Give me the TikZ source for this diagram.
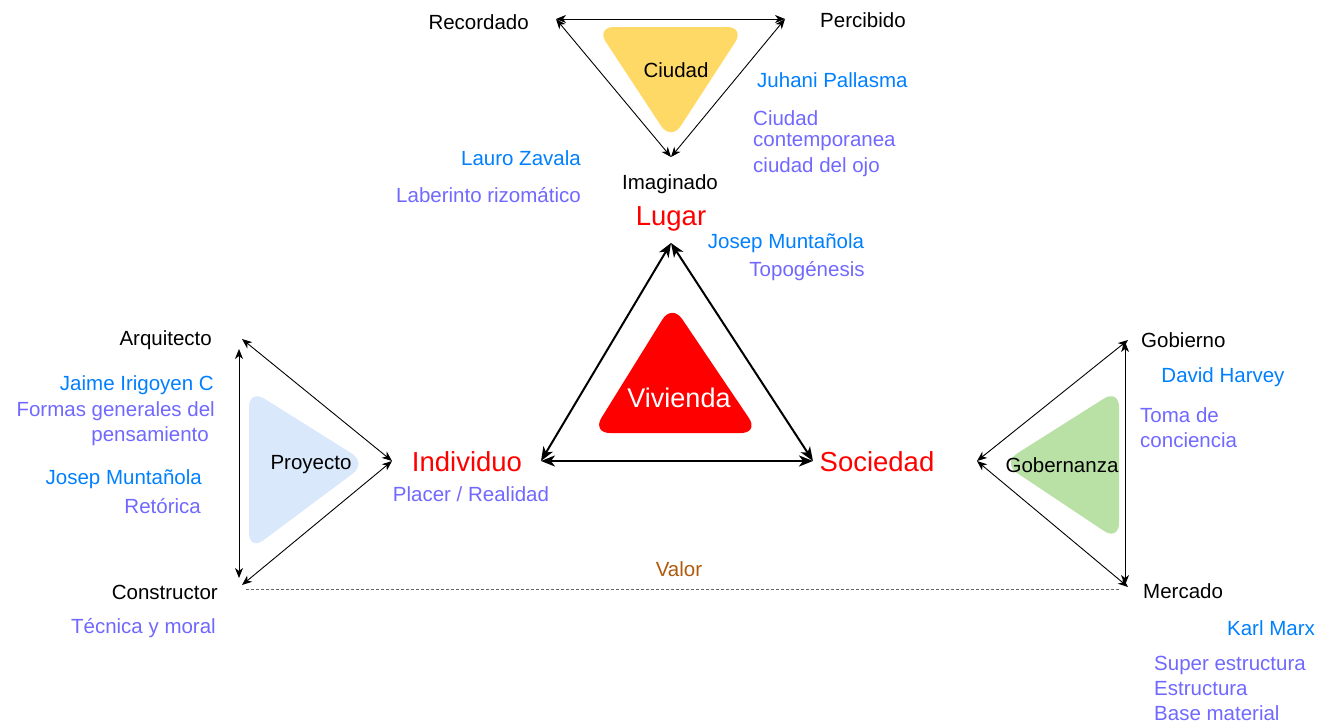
\documentclass[tikz,border=0pt]{standalone}
\usepackage{fontspec}
\setmainfont{Liberation Sans}
\usetikzlibrary{arrows.meta,calc}
\definecolor{authblue}{RGB}{0,127,255}
\definecolor{notepurple}{RGB}{112,104,255}
\definecolor{valorbrown}{RGB}{175,90,12}
\definecolor{ciudadyellow}{RGB}{255,217,102}
\definecolor{proyblue}{RGB}{218,232,252}
\definecolor{gobgreen}{RGB}{185,224,165}
\definecolor{vivred}{RGB}{255,0,0}
\tikzset{
  lbl/.style={font=\fontsize{20.5}{24}\selectfont, inner sep=0pt, yshift=-2pt},
  big/.style={font=\fontsize{27.5}{32}\selectfont, inner sep=0pt, text=vivred, yshift=-2.5pt},
  auth/.style={lbl, text=authblue},
  note/.style={lbl, text=notepurple},
  thinarr/.style={line width=0.9pt, {Stealth[length=10pt,width=8pt,inset=3pt]}-{Stealth[length=10pt,width=8pt,inset=3pt]}},
  thickarr/.style={line width=2pt, {Stealth[length=14pt,width=11pt,inset=4pt]}-{Stealth[length=14pt,width=11pt,inset=4pt]}},
  softtri/.style={rounded corners=18pt, draw=none}
}
\begin{document}
\begin{tikzpicture}[x=1pt,y=-1pt]
\useasboundingbox (0,0) rectangle (1332,723);

% ---------- top triangle: Ciudad ----------
\fill[ciudadyellow, softtri] (596,27) -- (745,27) -- (671,141) -- cycle;
\node[lbl] (ciudad) at (676,68) {Ciudad};
\coordinate (rec) at (556,19);
\coordinate (per) at (785,19);
\coordinate (ima) at (671,157);
\draw[thinarr] (rec) -- (per);
\draw[thinarr] (rec) -- (ima);
\draw[thinarr] (per) -- (ima);
\node[lbl, anchor=east] (recordado) at (529,20) {Recordado};
\node[lbl, anchor=west] (percibido) at (820,18) {Percibido};
\node[lbl] (imaginado) at (670,182) {Imaginado};
\node[auth, anchor=west] (pallasma) at (757,78) {Juhani Pallasma};
\node[note, anchor=west] (ciu1) at (753,116) {Ciudad};
\node[note, anchor=west] (ciu2) at (753,140) {contemporanea};
\node[note, anchor=west] (ciu3) at (753,165) {ciudad del ojo};
\node[auth, anchor=east] (zavala) at (581,156) {Lauro Zavala};
\node[note, anchor=east] (laber) at (581,193) {Laberinto rizomático};

% ---------- central triangle: Vivienda ----------
\fill[vivred, softtri] (672,304) -- (759,433) -- (592,433) -- cycle;
\node[lbl, text=white, font=\fontsize{27}{30}\selectfont] (vivienda) at (679,396) {Vivienda};
\node[big] (lugar) at (671,216) {Lugar};
\node[big] (individuo) at (467,459) {Individuo};
\node[big] (sociedad) at (877,459) {Sociedad};
\coordinate (ctop) at (671,243);
\coordinate (cleft) at (541,461);
\coordinate (cright) at (813,461);
\draw[thickarr] (ctop) -- (cleft);
\draw[thickarr] (ctop) -- (cright);
\draw[thickarr] (cleft) -- (cright);
\node[auth] (munt1) at (786,241) {Josep Muntañola};
\node[note] (topo) at (807,269) {Topogénesis};
\node[note] (placer) at (471,492) {Placer / Realidad};

% ---------- left triangle: Proyecto ----------
\fill[proyblue, softtri] (249,389) -- (367,463) -- (249,551) -- cycle;
\node[lbl] (proyecto) at (311,463) {Proyecto};
\coordinate (arq) at (242,339);
\coordinate (ind) at (392,461);
\coordinate (con) at (242,585);
\coordinate (vtop) at (239,349);
\coordinate (vbot) at (239,578);
\draw[thinarr] (arq) -- (ind);
\draw[thinarr] (ind) -- (con);
\draw[thinarr] (vtop) -- (vbot);
\node[lbl, anchor=east] (arquitecto) at (212,338) {Arquitecto};
\node[lbl, anchor=east] (constructor) at (218,590) {Constructor};
\node[auth, anchor=east] (irigoyen) at (214,383) {Jaime Irigoyen C};
\node[note, anchor=east] (formas1) at (215,409) {Formas generales del};
\node[note, anchor=east] (formas2) at (209,434) {pensamiento};
\node[auth, anchor=east] (munt2) at (202,477) {Josep Muntañola};
\node[note, anchor=east] (retorica) at (201,504) {Retórica};
\node[note, anchor=east] (tecnica) at (216,626) {Técnica y moral};

% ---------- right triangle: Gobernanza ----------
\fill[gobgreen, softtri] (1119,389) -- (1119,541) -- (1002,463) -- cycle;
\node[lbl] (gobernanza) at (1062,463) {Gobernanza};
\coordinate (gob) at (1128,340);
\coordinate (soc) at (977,461);
\coordinate (mer) at (1128,587);
\coordinate (gv1) at (1125,342);
\coordinate (gv2) at (1125,585);
\draw[thinarr] (soc) -- (gob);
\draw[thinarr] (soc) -- (mer);
\draw[thinarr] (gv1) -- (gv2);
\node[lbl, anchor=west] (gobierno) at (1141,338) {Gobierno};
\node[lbl, anchor=west] (mercado) at (1143,589) {Mercado};
\node[auth] (harvey) at (1223,375) {David Harvey};
\node[note, anchor=west] (toma1) at (1140,413) {Toma de};
\node[note, anchor=west] (toma2) at (1140,438) {conciencia};
\node[auth] (marx) at (1271,626) {Karl Marx};
\node[note, anchor=west] (sup1) at (1154,663) {Super estructura};
\node[note, anchor=west] (sup2) at (1154,687) {Estructura};
\node[note, anchor=west] (sup3) at (1154,711) {Base material};

% ---------- valor link ----------
\coordinate (vl) at (246,589);
\coordinate (vr) at (1120,589);
\draw[gray!80!black, line width=0.9pt, dash pattern=on 2.5pt off 2.5pt] (vl) -- (vr);
\node[lbl, text=valorbrown] (valor) at (679,567) {Valor};
\end{tikzpicture}
\end{document}
